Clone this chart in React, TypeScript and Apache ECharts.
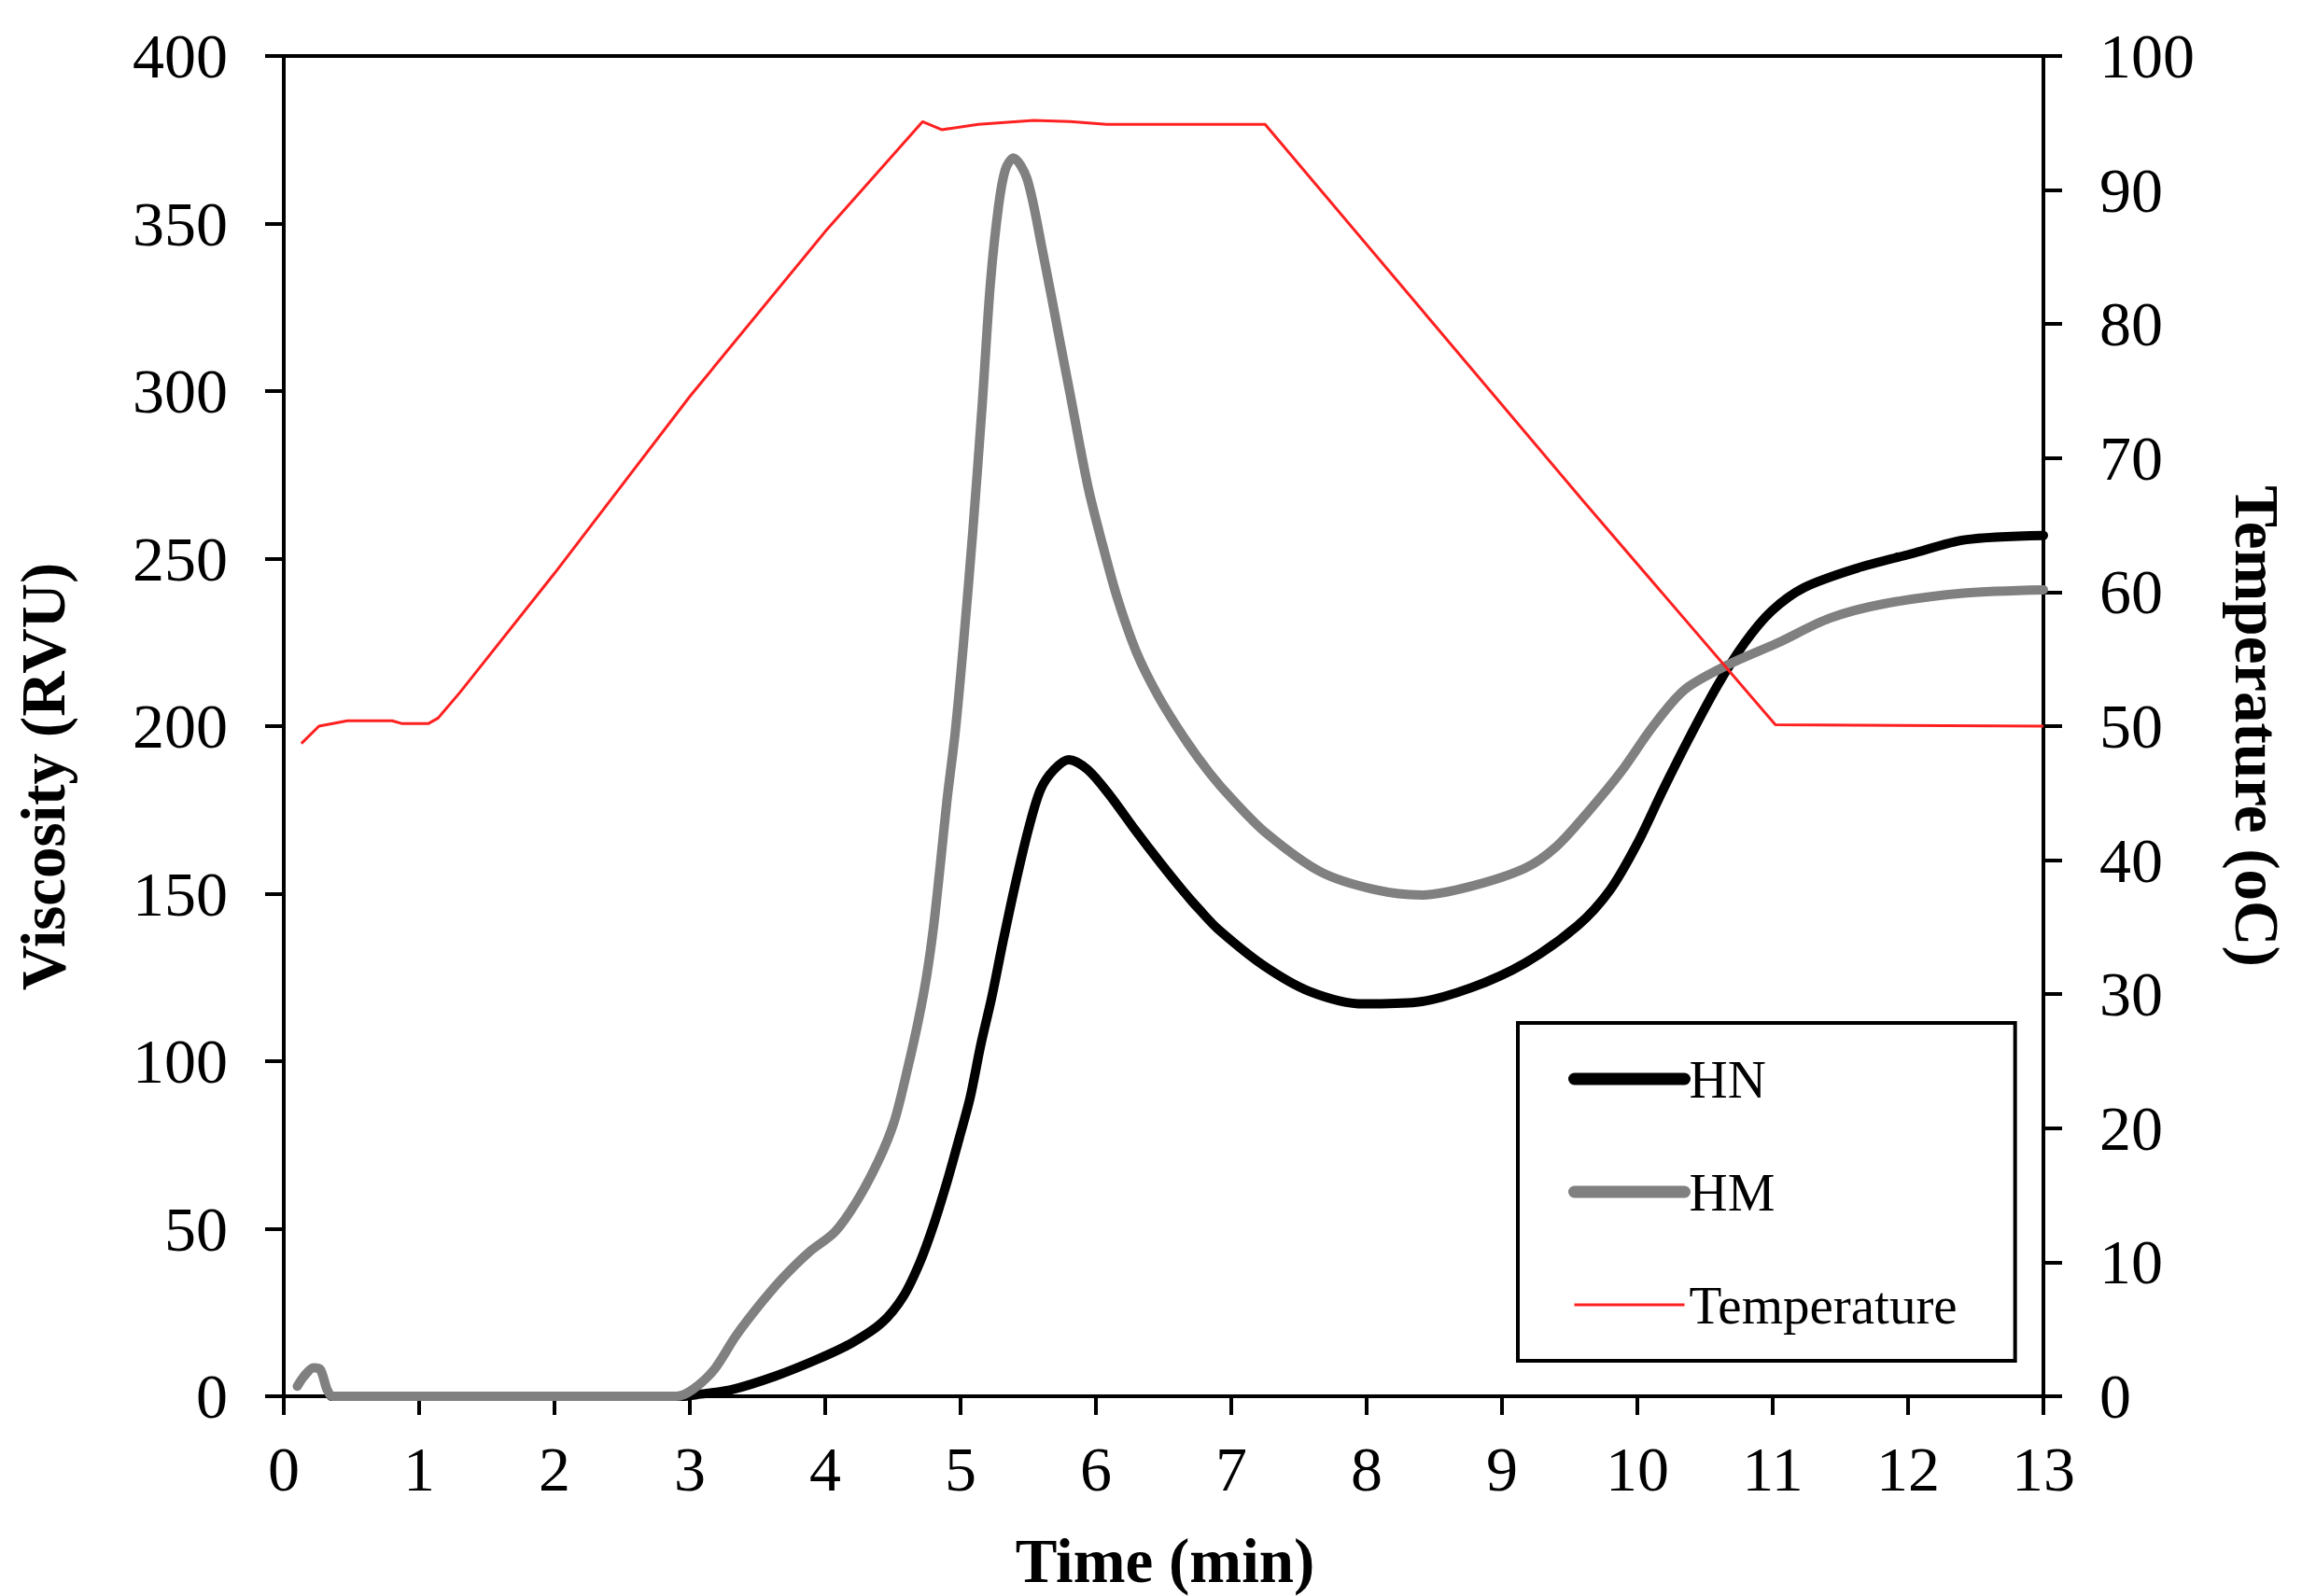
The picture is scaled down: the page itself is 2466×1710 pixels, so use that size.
import React, { useEffect, useRef } from "react";
import * as echarts from "echarts";

// ---- Data ----
const hnTime = [0.35, 1, 2, 2.95, 3.05, 3.31, 3.63, 3.94, 4.2, 4.42, 4.58, 4.7, 4.8, 4.9, 4.99, 5.07, 5.15, 5.23, 5.31, 5.4, 5.5, 5.59, 5.69, 5.8, 5.94, 6.1, 6.29, 6.48, 6.64, 6.77, 6.9, 7.23, 7.58, 7.98, 8.37, 8.77, 9.17, 9.56, 9.8, 10.0, 10.19, 10.39, 10.59, 10.79, 10.99, 11.23, 11.62, 12.02, 12.42, 13.0];
const hnVisc = [0, 0, 0, 0, 0.5, 2, 6, 11, 16, 22, 30, 40, 51, 64, 77, 89, 105, 119, 135, 152, 169, 181, 187, 190, 187, 179.5, 169, 159, 151, 145, 139.5, 128.8, 120.8, 117.1, 117.6, 121.9, 129.3, 140.5, 151.2, 165, 181, 197, 212, 224.7, 234.3, 241.3, 247.1, 251.4, 255.6, 256.9];

const hmTime = [0.1, 0.15, 0.22, 0.27, 0.32, 0.36, 1, 2, 2.9, 3.02, 3.18, 3.34, 3.53, 3.69, 3.88, 4.07, 4.23, 4.39, 4.51, 4.61, 4.69, 4.75, 4.8, 4.85, 4.9, 4.96, 5.02, 5.09, 5.16, 5.22, 5.28, 5.33, 5.39, 5.49, 5.6, 5.74, 5.81, 5.94, 6.05, 6.16, 6.3, 6.46, 6.66, 6.84, 7.0, 7.26, 7.66, 8.06, 8.41, 8.77, 9.17, 9.4, 9.64, 9.88, 10.12, 10.35, 10.67, 11.03, 11.42, 11.82, 12.41, 13.0];
const hmVisc = [3, 6, 8.5, 8, 2, 0, 0, 0, 0, 2, 8, 18, 28, 35.5, 43, 49, 58, 70, 82, 98, 112.5, 125.6, 140, 158.5, 178, 198, 224, 258, 296, 332, 355, 366, 369.6, 363.5, 343, 313.6, 299, 271.7, 254, 238, 222, 209, 196, 186, 178.5, 168, 156.5, 151.2, 149.6, 152.2, 157.6, 164, 174.6, 186.4, 200.2, 210.9, 218.3, 224.7, 232.2, 236.5, 239.7, 240.7];

const tempTime = [0.13, 0.26, 0.47, 0.8, 0.87, 1.07, 1.14, 1.3, 2.0, 3.0, 4.0, 4.72, 4.86, 5.13, 5.54, 5.81, 6.08, 7.25, 9.6, 11.02, 13.0];
const tempValue = [48.7, 50.0, 50.4, 50.4, 50.2, 50.2, 50.6, 52.5, 61.4, 74.6, 86.9, 95.1, 94.5, 94.9, 95.2, 95.1, 94.9, 94.9, 66.8, 50.1, 50.0];

const seriesNames = ["HN", "HM", "Temperature"];
const xTitle = "Time (min)";
const yLeftTitle = "Viscosity (RVU)";
const yRightTitle = "Temperature (oC)";

const pairs = (xs: number[], ys: number[]) => xs.map((x, i) => [x, ys[i]]);

const FONT = '"Liberation Serif", "Times New Roman", serif';

export default function App() {
  const ref = useRef<HTMLDivElement>(null);
  useEffect(() => {
    if (!ref.current) return;
    const chart = echarts.init(ref.current, undefined, { renderer: "svg" });
    const axisLine = { show: true, lineStyle: { color: "#000", width: 4 } };
    const axisTick = { show: true, inside: false, length: 20, lineStyle: { color: "#000", width: 4 } };
    const axisLabel = (margin: number) => ({ color: "#000", fontFamily: FONT, fontSize: 68, margin });
    chart.setOption({
      animation: false,
      backgroundColor: "#fff",
      grid: { left: 304, right: 277, top: 60, bottom: 214, show: true, borderColor: "#000", borderWidth: 4, containLabel: false },
      xAxis: {
        type: "value", min: 0, max: 13, interval: 1,
        axisLine, axisTick, axisLabel: axisLabel(44), splitLine: { show: false },
      },
      yAxis: [
        {
          type: "value", min: 0, max: 400, interval: 50, position: "left",
          axisLine, axisTick, axisLabel: axisLabel(60), splitLine: { show: false },
        },
        {
          type: "value", min: 0, max: 100, interval: 10, position: "right",
          axisLine, axisTick, axisLabel: axisLabel(60), splitLine: { show: false },
        },
      ],
      legend: {
        orient: "vertical", left: 1626, top: 1096,
        data: [
          { name: seriesNames[0], lineStyle: { width: 13, cap: "round" } },
          { name: seriesNames[1], lineStyle: { width: 13, cap: "round" } },
          { name: seriesNames[2], lineStyle: { width: 3, cap: "butt" } },
        ],
        itemStyle: { opacity: 0 },
        itemWidth: 118, itemHeight: 14, itemGap: 61,
        padding: [30, 62, 30, 54],
        borderColor: "#000", borderWidth: 4,
        textStyle: { fontFamily: FONT, fontSize: 57, color: "#000", lineHeight: 60 },
      },
      series: [
        {
          name: seriesNames[0], type: "line", yAxisIndex: 0, showSymbol: false, symbol: "none",
          data: pairs(hnTime, hnVisc), smooth: 0.3,
          lineStyle: { color: "#000", width: 10, cap: "round", join: "round" }, itemStyle: { color: "#000" },
        },
        {
          name: seriesNames[1], type: "line", yAxisIndex: 0, showSymbol: false, symbol: "none",
          data: pairs(hmTime, hmVisc), smooth: 0.3,
          lineStyle: { color: "#808080", width: 10, cap: "round", join: "round" }, itemStyle: { color: "#808080" },
        },
        {
          name: seriesNames[2], type: "line", yAxisIndex: 1, showSymbol: false, symbol: "none",
          data: pairs(tempTime, tempValue),
          lineStyle: { color: "#ff2020", width: 3 }, itemStyle: { color: "#ff2020" },
        },
      ],
      graphic: [
        {
          type: "text", x: 46, y: 832, rotation: Math.PI / 2,
          style: { text: yLeftTitle, fontFamily: FONT, fontSize: 67, fontWeight: "bold", fill: "#000", align: "center", verticalAlign: "middle" },
        },
        {
          type: "text", x: 2418, y: 778, rotation: -Math.PI / 2,
          style: { text: yRightTitle, fontFamily: FONT, fontSize: 67, fontWeight: "bold", fill: "#000", align: "center", verticalAlign: "middle" },
        },
        {
          type: "text", x: 1248, y: 1672,
          style: { text: xTitle, fontFamily: FONT, fontSize: 67, fontWeight: "bold", fill: "#000", align: "center", verticalAlign: "middle" },
        },
      ],
    });
    return () => chart.dispose();
  }, []);
  return <div ref={ref} style={{ position: "fixed", left: 0, top: 0, width: 2466, height: 1710, background: "#fff" }} />;
}
